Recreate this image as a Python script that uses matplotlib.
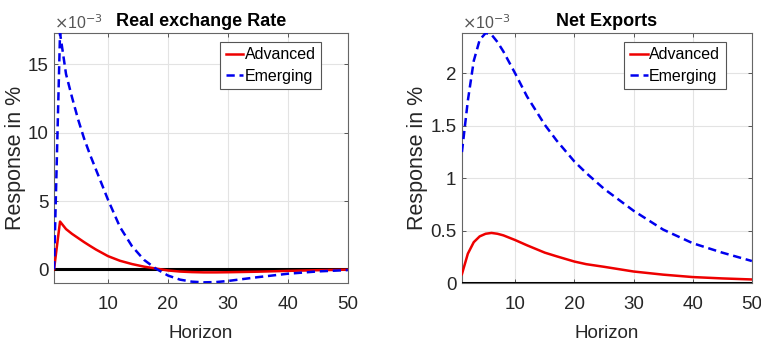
import matplotlib
matplotlib.use("Agg")
import matplotlib.pyplot as plt

plt.rcParams['font.family'] = ['Liberation Sans', 'DejaVu Sans']

# values are in units of 1e-3 (the axis multiplier shown on the chart)
# Real exchange rate panel
h_rer = [1, 2, 3, 4, 5, 6, 7, 8, 10, 12, 14, 16, 18, 20, 22, 24, 26, 28, 30, 35, 40, 45, 50]
rer_adv = [0, 3.5, 2.95, 2.6, 2.3, 2.0, 1.72, 1.45, 0.97, 0.63, 0.39, 0.2, 0.06, -0.08,
           -0.16, -0.2, -0.22, -0.22, -0.21, -0.17, -0.11, -0.06, -0.02]
rer_emg = [0, 17.3, 14.3, 12.6, 11.0, 9.6, 8.4, 7.3, 5.1, 3.1, 1.7, 0.7, 0.05, -0.45,
           -0.75, -0.9, -0.95, -0.93, -0.85, -0.57, -0.32, -0.15, -0.05]

# Net exports panel
h_nx = [1, 2, 3, 4, 5, 6, 7, 8, 10, 12, 15, 17, 20, 22, 25, 30, 35, 40, 45, 50]
nx_adv = [0.085, 0.28, 0.39, 0.445, 0.47, 0.478, 0.47, 0.455, 0.41, 0.36, 0.29, 0.255,
          0.205, 0.18, 0.155, 0.11, 0.08, 0.057, 0.044, 0.034]
nx_emg = [1.25, 1.74, 2.12, 2.32, 2.385, 2.37, 2.30, 2.21, 2.0, 1.78, 1.51, 1.36, 1.16,
          1.05, 0.9, 0.69, 0.51, 0.38, 0.29, 0.21]

panels = [
    ("Real exchange Rate", h_rer, rer_adv, rer_emg, (-1.0, 17.3), [0, 5, 10, 15]),
    ("Net Exports", h_nx, nx_adv, nx_emg, (0, 2.385), [0, 0.5, 1, 1.5, 2]),
]
positions = [[0.071, 0.170, 0.386, 0.733], [0.607, 0.170, 0.381, 0.733]]
ylabel_x = [-0.097, -0.118]

fig = plt.figure(figsize=(7.61, 3.41), dpi=100)
for (title, h, adv, emg, ylim, yt), pos, lx in zip(panels, positions, ylabel_x):
    ax = fig.add_axes(pos)
    ax.plot([1, 50], [0, 0], color='black', lw=2.2, zorder=3)
    ax.plot(h, adv, color='#ee0000', lw=1.8, label='Advanced', zorder=4)
    ax.plot(h, emg, color='#0000ee', lw=1.8, ls=(0, (3.3, 1.9)), label='Emerging', zorder=4)
    ax.set_xlim(1, 50)
    ax.set_ylim(*ylim)
    ax.set_xticks([10, 20, 30, 40, 50])
    ax.set_yticks(yt)
    ax.set_yticklabels([f'{v:g}' for v in yt])
    ax.grid(True, color='#e3e3e3', lw=0.8)
    ax.set_axisbelow(True)
    ax.tick_params(direction='in', length=3, width=0.7, color='#555555',
                   labelsize=13.5, labelcolor='#262626', top=True, right=True)
    ax.tick_params(axis='x', pad=9)
    ax.tick_params(axis='y', pad=4)
    for s in ax.spines.values():
        s.set_color('#666666')
        s.set_linewidth(0.8)
    ax.set_title(title, fontsize=13, fontweight='bold', pad=5, color='black')
    ax.set_xlabel('Horizon', fontsize=13.5, color='#262626', labelpad=9)
    ax.set_ylabel('Response in %', fontsize=15.5, color='#262626')
    ax.yaxis.set_label_coords(lx, 0.5)
    ax.text(0.0, 1.005, r'$\times$10$^{-3}$', transform=ax.transAxes, fontsize=11.5,
            color='#555555', ha='left', va='bottom')
    leg = ax.legend(loc='upper right', bbox_to_anchor=(0.91, 0.965), fontsize=11.5,
                    handlelength=1.1, handletextpad=0.1, borderpad=0.35,
                    labelspacing=0.4, borderaxespad=0, fancybox=False, framealpha=1)
    leg.get_frame().set_edgecolor('#555555')
    leg.get_frame().set_linewidth(0.8)

fig.savefig('out.png', dpi=100)
